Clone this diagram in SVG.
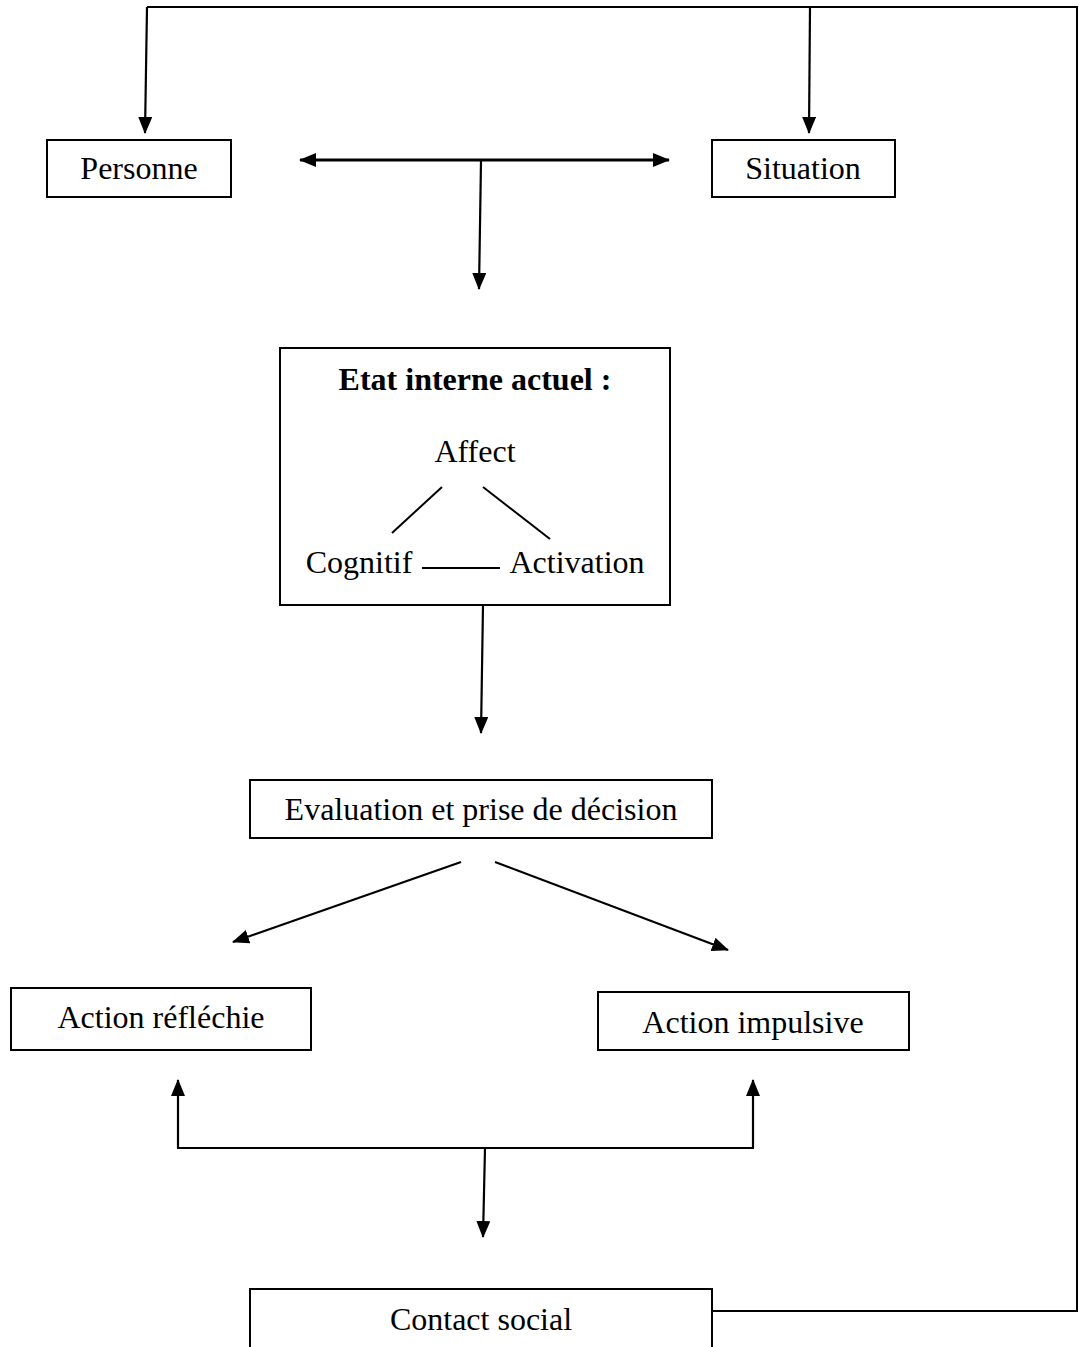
<svg xmlns="http://www.w3.org/2000/svg" width="1079" height="1347" viewBox="0 0 1079 1347">
  <defs>
    <marker id="ah" markerUnits="userSpaceOnUse" markerWidth="18" markerHeight="15" refX="16" refY="7" orient="auto-start-reverse">
      <path d="M0,0 L17,7 L0,14 z" fill="#000"/>
    </marker>
    <style>
      .box { fill: #fff; stroke: #000; stroke-width: 2; }
      .lbl { font-family: "Liberation Serif", "Times New Roman", serif; font-size: 32px; fill: #000; text-anchor: middle; }
      .bold { font-weight: bold; }
      .ln { fill: none; stroke: #000; stroke-width: 2; }
      .arr { fill: none; stroke: #000; stroke-width: 2.2; marker-end: url(#ah); }
    </style>
  </defs>
  <rect width="1079" height="1347" fill="#fff"/>

  <g id="connectors">
    <path class="ln" d="M712,1311 H1077 V7 H147"/>
    <line class="arr" x1="147" y1="7" x2="145" y2="133"/>
    <line class="arr" x1="810" y1="7" x2="809" y2="133"/>
    <line class="arr" x1="300" y1="160" x2="669" y2="160" marker-start="url(#ah)" style="stroke-width:3"/>
    <line class="arr" x1="481" y1="161" x2="479" y2="289"/>
    <line class="arr" x1="483" y1="605" x2="481" y2="733"/>
    <line class="arr" x1="461" y1="862" x2="233" y2="942"/>
    <line class="arr" x1="495" y1="862" x2="728" y2="950"/>
    <path class="ln" d="M178,1082 V1148 H753 V1082"/>
    <line class="arr" x1="178" y1="1148" x2="178" y2="1080"/>
    <line class="arr" x1="753" y1="1148" x2="753" y2="1080"/>
    <line class="arr" x1="485" y1="1148" x2="483" y2="1237"/>
  </g>

  <g id="personne">
    <rect class="box" x="47" y="140" width="184" height="57"/>
    <text class="lbl" x="139" y="179">Personne</text>
  </g>
  <g id="situation">
    <rect class="box" x="712" y="140" width="183" height="57"/>
    <text class="lbl" x="803" y="179">Situation</text>
  </g>
  <g id="etat">
    <rect class="box" x="280" y="348" width="390" height="257"/>
    <text class="lbl bold" x="475" y="390">Etat interne actuel :</text>
    <text class="lbl" x="475" y="462">Affect</text>
    <text class="lbl" x="359" y="573">Cognitif</text>
    <text class="lbl" x="577" y="573">Activation</text>
    <line class="ln" x1="442" y1="487" x2="392" y2="533"/>
    <line class="ln" x1="483" y1="487" x2="550" y2="539"/>
    <line class="ln" x1="422" y1="568" x2="500" y2="568"/>
  </g>
  <g id="evaluation">
    <rect class="box" x="250" y="780" width="462" height="58"/>
    <text class="lbl" x="481" y="820">Evaluation et prise de décision</text>
  </g>
  <g id="action-reflechie">
    <rect class="box" x="11" y="988" width="300" height="62"/>
    <text class="lbl" x="161" y="1028">Action réfléchie</text>
  </g>
  <g id="action-impulsive">
    <rect class="box" x="598" y="992" width="311" height="58"/>
    <text class="lbl" x="753" y="1033">Action impulsive</text>
  </g>
  <g id="contact-social">
    <rect class="box" x="250" y="1289" width="462" height="80"/>
    <text class="lbl" x="481" y="1330">Contact social</text>
  </g>
</svg>
